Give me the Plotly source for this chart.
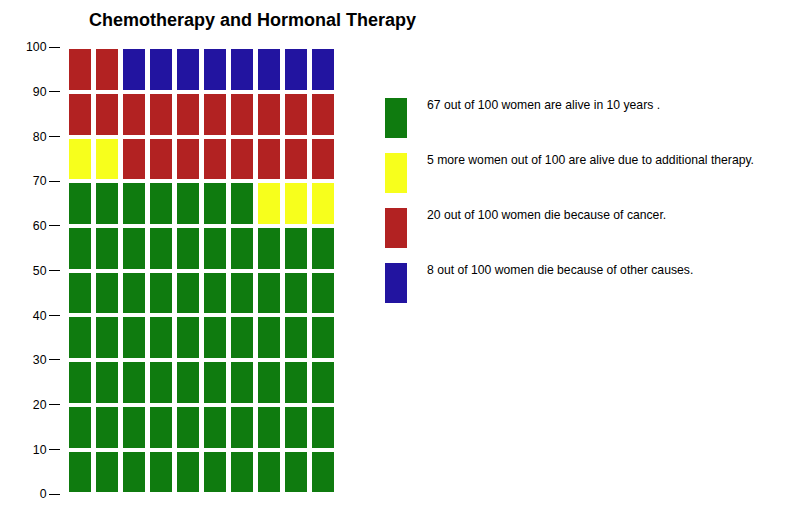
import plotly.graph_objects as go

# ---- data ----
categories = ["alive", "therapy", "cancer", "other"]
counts = [67, 5, 20, 8]
colors = ["#0f7b0f", "#f7ff1c", "#b22222", "#2214a0"]
legend_labels = [
    "67 out of 100 women are alive in 10 years .",
    "5 more women out of 100 are alive due to additional therapy.",
    "20 out of 100 women die because of cancer.",
    "8 out of 100 women die because of other causes.",
]
y_ticks = [0, 10, 20, 30, 40, 50, 60, 70, 80, 90, 100]
title = "Chemotherapy and Hormonal Therapy"
n_cols = 10

W, H = 791, 524
OX, OY = 8, 8  # page body margin offset
FONT = "Liberation Sans, Arial, Helvetica, sans-serif"


def px(x):
    return (x - OX) / W


def py(y):
    return 1 - (y - OY) / H


fig = go.Figure()

# waffle cells: fill left-to-right, bottom-to-top
idx = 0
for cat, cnt, col in zip(categories, counts, colors):
    xs, bases = [], []
    for k in range(cnt):
        pos = idx + k
        xs.append(pos % n_cols)
        bases.append((pos // n_cols) * 10 + 0.4)
    idx += cnt
    fig.add_trace(go.Bar(
        x=xs, y=[9.1] * len(xs), base=bases, width=22 / 27,
        marker=dict(color=col, line=dict(width=0)),
        showlegend=False, hoverinfo="skip", xaxis="x", yaxis="y",
    ))

# legend swatches on a second pair of axes
for i, col in enumerate(colors):
    fig.add_trace(go.Bar(
        x=[0], y=[40], base=[205 - 40 - 55 * i], width=1,
        marker=dict(color=col, line=dict(width=0)),
        showlegend=False, hoverinfo="skip", xaxis="x2", yaxis="y2",
    ))

annotations = []
for i, lab in enumerate(legend_labels):
    annotations.append(dict(
        text=lab, xref="paper", yref="paper",
        x=px(424.5), y=py(105 + 55 * i),
        xanchor="left", yanchor="middle", showarrow=False,
        font=dict(family=FONT, size=12.2, color="#000"),
    ))

# title as an annotation anchored at the top edge
annotations.append(dict(
    text="<b>" + title + "</b>", xref="paper", yref="paper",
    x=px(253), y=1, xanchor="center", yanchor="top", showarrow=False,
    font=dict(family=FONT, size=18, color="#000"),
))

fig.update_layout(
    width=W, height=H,
    margin=dict(l=0, r=0, t=0, b=0),
    paper_bgcolor="white", plot_bgcolor="white",
    barmode="overlay", bargap=0,
    xaxis=dict(domain=[px(65.5), px(335.5)], range=[-0.5, 9.5],
               visible=False, fixedrange=True),
    yaxis=dict(domain=[py(494), py(47)], range=[0, 100],
               anchor="free", position=px(60),
               tickvals=y_ticks, ticktext=[str(v) for v in y_ticks],
               ticks="outside", ticklen=11, tickcolor="#000", tickwidth=1,
               showline=False, showgrid=False, zeroline=False,
               tickfont=dict(family=FONT, size=12.3, color="#000"),
               automargin=False, fixedrange=True),
    xaxis2=dict(domain=[px(385), px(407)], range=[-0.5, 0.5],
                visible=False, anchor="y2", fixedrange=True),
    yaxis2=dict(domain=[py(303), py(98)], range=[0, 205],
                visible=False, anchor="x2", fixedrange=True),
    annotations=annotations,
)

fig.write_html("out.html")
